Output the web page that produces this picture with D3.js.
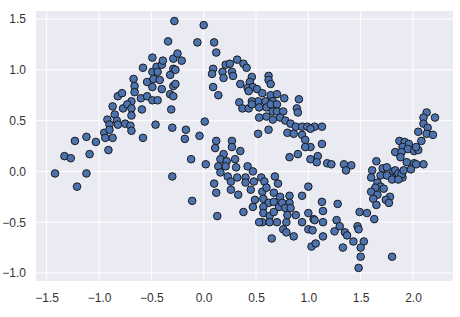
<!DOCTYPE html>
<html>
<head>
<meta charset="utf-8">
<script src="https://cdn.jsdelivr.net/npm/d3@7"></script>
<style>
  body { margin: 0; background: #fff; }
  .tick text { font-family: "Liberation Sans", Arial, sans-serif; font-size: 12px; fill: #333; }
</style>
</head>
<body>
<svg id="chart"></svg>
<script>
// two interleaved half-moons
const xs = [
  -1.42, -1.33, -1.27, -1.21, -1.23, -1.12, -1.12, -1.09, -1.03, -0.95,
  -0.94, -0.91, -0.92, -0.90, -0.90, -0.87, -0.87, -0.85, -0.83, -0.82,
  -0.82, -0.78, -0.77, -0.75, -0.70, -0.69, -0.73, -0.69, -0.69, -0.69,
  -0.67, -0.66, -0.66, -0.60, -0.59, -0.58, -0.58, -0.54, -0.54, -0.49,
  -0.49, -0.49, -0.49, -0.48, -0.46, -0.45, -0.44, -0.44, -0.42, -0.40,
  -0.39, -0.40, -0.34, -0.32, -0.32, -0.31, -0.29, -0.29, -0.29, -0.29,
  -0.30, -0.30, -0.28, -0.27, -0.27, -0.25, -0.21, -0.17, -0.18, -0.04,
  -0.06, 0.00, 0.01, 0.10, 0.12, 0.12, 0.09, 0.08, 0.09, 0.14,
  0.21, 0.25, 0.18, 0.19, 0.27, 0.28, 0.32, 0.38, 0.41, 0.46,
  0.35, 0.44, 0.42, 0.47, 0.51, 0.56, 0.43, 0.62, 0.62, 0.64,
  0.64, 0.70, 0.77, 0.91, 0.66, 0.59, 0.52, 0.46, 0.34, 0.37,
  0.43, 0.46, 0.53, 0.60, 0.64, 0.70, 0.66, 0.70, 0.76, 0.89,
  0.90, 0.53, 0.60, 0.66, 0.73, 0.78, 0.83, 0.88, 0.94, 0.99,
  1.06, 1.02, 0.80, 0.86, 0.94, 0.97, 0.62, 0.52, 1.13, 1.13,
  1.02, 0.27, 0.27,
  -0.12, -0.11, 0.02, 0.11, 0.19, 0.35, 0.16, 0.22, 0.30, 0.14,
  0.21, 0.31, 0.16, 0.23, 0.32, 0.42, 0.47, 0.40, 0.40, 0.48,
  0.55, 0.58, 0.68, 0.71, 0.10, 0.26, 0.26, 0.12, 0.33, 0.45,
  0.56, 0.60, 0.13, 0.38, 0.47, 0.49, 0.57, 0.62, 0.57, 0.67,
  0.67, 0.73, 0.72, 0.82, 0.82, 0.75, 0.78, 0.83, 0.82, 0.90,
  0.97, 1.02, 0.94, 1.00, 0.57, 0.63, 0.56, 0.63, 0.53, 0.70,
  0.79, 0.80, 0.88, 0.94, 1.00, 0.76, 0.79, 0.86, 0.65, 1.00,
  1.05, 1.03, 1.04, 1.09, 1.08, 1.18, 1.22, 1.34, 1.41, 1.36,
  1.13, 1.28, 1.14, 1.06, 1.14, 1.27, 1.30, 1.25, 1.35, 1.37,
  1.14, 1.33, 1.43, 1.47, 1.49, 1.56, 1.63, 1.48, 1.53, 1.50,
  1.50, 1.48, 1.80, 1.07, 1.65, 1.61, 1.60, 1.69, 1.71, 1.75,
  1.81, 1.83, 1.84, 1.86, 1.90, 1.89, 1.91, 1.75, 1.80, 1.86,
  1.66, 1.69, 1.64, 1.72, 1.60, 1.66, 1.78, 1.74, 1.62, 1.65,
  1.77, 1.83, 1.87, 1.92, 1.96, 1.90, 1.95, 2.01, 2.05, 1.89,
  1.88, 1.94, 2.01, 2.10, 1.98, 2.03, 2.13, 2.21, 2.10, 2.10,
  2.14, 2.05, 2.13, 2.19, 2.08, 2.03, 0.67
];
const ys = [
  -0.02, 0.15, 0.13, -0.15, 0.30, 0.34, -0.02, 0.17, 0.29, 0.38,
  0.33, 0.21, 0.51, 0.46, 0.41, 0.33, 0.64, 0.56, 0.50, 0.74,
  0.46, 0.77, 0.62, 0.47, 0.45, 0.69, 0.66, 0.62, 0.55, 0.40,
  0.91, 0.84, 0.78, 0.72, 0.61, 1.02, 0.33, 0.88, 0.74, 1.12,
  0.98, 0.83, 0.70, 0.91, 0.46, 1.03, 0.98, 0.70, 0.90, 1.05,
  1.09, 0.81, 1.28, 0.95, 0.76, 0.61, 1.11, 1.01, 0.84, 0.74,
  0.43, -0.05, 1.48, 1.00, 0.86, 1.16, 1.09, 0.41, 0.32, 0.35,
  1.27, 1.44, 0.49, 1.27, 1.17, 0.30, 1.01, 0.96, 0.83, 0.75,
  1.05, 1.06, 0.98, 0.92, 0.98, 0.94, 1.10, 1.06, 1.02, 0.93,
  0.86, 0.88, 0.82, 0.83, 0.81, 0.77, 0.79, 0.94, 0.90, 0.86,
  0.75, 0.76, 0.72, 0.71, 0.69, 0.69, 0.69, 0.69, 0.68, 0.62,
  0.62, 0.66, 0.63, 0.63, 0.66, 0.66, 0.59, 0.59, 0.59, 0.62,
  0.58, 0.53, 0.54, 0.51, 0.53, 0.50, 0.47, 0.44, 0.44, 0.44,
  0.44, 0.42, 0.38, 0.37, 0.36, 0.31, 0.41, 0.37, 0.27, 0.44,
  0.24, 0.30, 0.24,
  0.12, -0.29, 0.07, 0.23, 0.17, 0.20, 0.12, 0.10, 0.12, 0.05,
  0.05, 0.04, -0.01, -0.05, -0.06, 0.05, 0.00, -0.06, -0.11, -0.10,
  -0.06, -0.10, -0.05, -0.12, -0.12, -0.10, -0.18, -0.21, -0.23, -0.18,
  -0.20, -0.16, -0.44, -0.40, -0.35, -0.28, -0.27, -0.31, -0.35, -0.21,
  -0.30, -0.25, -0.35, -0.24, -0.31, -0.31, -0.36, -0.36, 0.14, 0.17,
  0.24, 0.12, -0.24, -0.15, -0.41, -0.44, -0.50, -0.50, -0.50, -0.50,
  -0.50, -0.43, -0.43, -0.50, -0.41, -0.57, -0.60, -0.64, -0.66, -0.57,
  -0.47, -0.74, -0.58, 0.15, 0.09, 0.08, 0.07, 0.07, 0.06, 0.01,
  -0.30, -0.32, -0.39, -0.48, -0.50, -0.48, -0.54, -0.59, -0.60, -0.63,
  -0.64, -0.75, -0.69, -0.54, -0.40, -0.41, -0.47, -0.57, -0.69, -0.75,
  -0.84, -0.95, -0.84, -0.71, 0.10, 0.01, -0.06, -0.04, 0.03, 0.04,
  0.00, 0.01, -0.06, -0.02, -0.06, -0.03, 0.01, -0.04, -0.08, -0.08,
  -0.11, -0.15, -0.16, -0.17, -0.20, -0.23, -0.25, -0.28, -0.27, -0.33,
  -0.31, 0.19, 0.30, 0.29, 0.27, 0.24, 0.22, 0.20, 0.21, 0.19,
  0.14, 0.09, 0.08, 0.07, 0.02, 0.07, 0.58, 0.53, 0.53, 0.47,
  0.43, 0.39, 0.37, 0.36, 0.30, 0.24, -0.40
];
const xTicks = [-1.5, -1.0, -0.5, 0.0, 0.5, 1.0, 1.5, 2.0];
const yTicks = [-1.0, -0.5, 0.0, 0.5, 1.0, 1.5];

const width = 460, height = 317;
const margin = { top: 11, right: 7, bottom: 36, left: 36 };
const w = width - margin.left - margin.right;
const h = height - margin.top - margin.bottom;

const svg = d3.select('#chart')
    .attr('width', width)
    .attr('height', height);

const chart = svg.append('g')
    .attr('transform', `translate(${margin.left}, ${margin.top})`);

const x = d3.scaleLinear().domain([-1.602, 2.382]).range([0, w]);
const y = d3.scaleLinear().domain([-1.079, 1.579]).range([h, 0]);

chart.append('rect')
    .attr('width', w)
    .attr('height', h)
    .attr('fill', '#eaeaf2');

// white grid
chart.append('g')
  .selectAll('line')
  .data(xTicks)
  .join('line')
    .attr('x1', d => x(d)).attr('x2', d => x(d))
    .attr('y1', 0).attr('y2', h)
    .attr('stroke', '#fff').attr('stroke-width', 1);

chart.append('g')
  .selectAll('line')
  .data(yTicks)
  .join('line')
    .attr('y1', d => y(d)).attr('y2', d => y(d))
    .attr('x1', 0).attr('x2', w)
    .attr('stroke', '#fff').attr('stroke-width', 1);

const xAxis = d3.axisBottom(x).tickValues(xTicks).tickFormat(d3.format('.1f')).tickSize(0).tickPadding(12);
const yAxis = d3.axisLeft(y).tickValues(yTicks).tickFormat(d3.format('.1f')).tickSize(0).tickPadding(10);

chart.append('g')
    .attr('transform', `translate(0, ${h})`)
    .call(xAxis)
    .call(g => g.select('.domain').remove());

chart.append('g')
    .call(yAxis)
    .call(g => g.select('.domain').remove());

const points = xs.map((v, i) => ({ x: v, y: ys[i] }));

chart.append('g')
  .selectAll('circle')
  .data(points)
  .join('circle')
    .attr('cx', d => x(d.x))
    .attr('cy', d => y(d.y))
    .attr('r', 3.8)
    .attr('fill', '#4c72b0')
    .attr('stroke', '#1a1a1a')
    .attr('stroke-width', 1);
</script>
</body>
</html>
